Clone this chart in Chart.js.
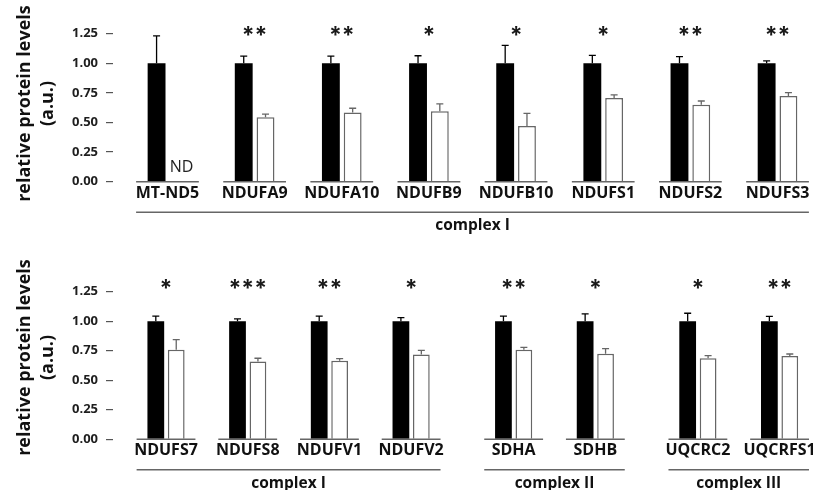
<!DOCTYPE html>
<html>
<head>
<meta charset="utf-8">
<script src="https://cdn.jsdelivr.net/npm/chart.js@4.4.1/dist/chart.umd.min.js"></script>
<style>
  html, body { margin: 0; padding: 0; background: #fff; }
  canvas { display: block; }
</style>
</head>
<body>
<canvas id="topPanel" width="813" height="240"></canvas>
<canvas id="bottomPanel" width="813" height="250"></canvas>
<script>
// top row
var topLabels  = ['MT-ND5', 'NDUFA9', 'NDUFA10', 'NDUFB9', 'NDUFB10', 'NDUFS1', 'NDUFS2', 'NDUFS3'];
var topGroups  = ['complex I', 'complex I', 'complex I', 'complex I', 'complex I', 'complex I', 'complex I', 'complex I'];
var topCtrl    = [1.00, 1.00, 1.00, 1.00, 1.00, 1.00, 1.00, 1.00];
var topCtrlErr = [0.23, 0.06, 0.06, 0.063, 0.15, 0.067, 0.055, 0.02];
var topKO      = [null, 0.543, 0.585, 0.594, 0.47, 0.706, 0.65, 0.723];
var topKOErr   = [null, 0.028, 0.035, 0.062, 0.107, 0.026, 0.031, 0.028];
var topStars   = ['', '**', '**', '*', '*', '*', '**', '**'];

// bottom row
var bottomLabels  = ['NDUFS7', 'NDUFS8', 'NDUFV1', 'NDUFV2', 'SDHA', 'SDHB', 'UQCRC2', 'UQCRFS1'];
var bottomGroups  = ['complex I', 'complex I', 'complex I', 'complex I', 'complex II', 'complex II', 'complex III', 'complex III'];
var bottomCtrl    = [1.00, 1.00, 1.00, 1.00, 1.00, 1.00, 1.00, 1.00];
var bottomCtrlErr = [0.042, 0.02, 0.042, 0.03, 0.042, 0.062, 0.067, 0.04];
var bottomKO      = [0.759, 0.658, 0.666, 0.717, 0.759, 0.725, 0.686, 0.705];
var bottomKOErr   = [0.084, 0.028, 0.017, 0.036, 0.02, 0.042, 0.022, 0.017];
var bottomStars   = ['*', '***', '**', '*', '**', '*', '*', '**'];

var yTicks = [0, 0.25, 0.5, 0.75, 1.0, 1.25];
var yTitle = ['relative protein levels', '(a.u.)'];

Chart.defaults.font.family = '"Open Sans", sans-serif';

var GROUP_GAP = 0.255;   // extra room between complexes
var HALF_BASE = 0.36;    // half length of the line under each category

function categoryPositions(groups) {
  var g = 0;
  return groups.map(function(name, i) {
    if (i > 0 && name !== groups[i - 1]) g++;
    return i + g * GROUP_GAP;
  });
}

var extrasPlugin = {
  id: 'extras',
  afterDatasetsDraw: function(chart, args, opts) {
    var ctx = chart.ctx, xs = chart.scales.x, ys = chart.scales.y;
    var y0 = ys.getPixelForValue(0);
    ctx.save();
    ctx.lineWidth = 1.5;
    ctx.strokeStyle = '#666';
    opts.pos.forEach(function(p) {
      ctx.beginPath();
      ctx.moveTo(xs.getPixelForValue(p - HALF_BASE), y0);
      ctx.lineTo(xs.getPixelForValue(p + HALF_BASE), y0);
      ctx.stroke();
    });
    // error bars, upper side only
    chart.data.datasets.forEach(function(ds, d) {
      var meta = chart.getDatasetMeta(d);
      ctx.strokeStyle = ds.errColor;
      ctx.lineWidth = 1.3;
      meta.data.forEach(function(bar, i) {
        var v = ds.data[i].y, e = ds.err[i];
        if (v == null || e == null) return;
        var yTop = ys.getPixelForValue(v + e);
        ctx.beginPath();
        ctx.moveTo(bar.x, ys.getPixelForValue(v));
        ctx.lineTo(bar.x, yTop);
        ctx.moveTo(bar.x - 3.5, yTop);
        ctx.lineTo(bar.x + 3.5, yTop);
        ctx.stroke();
      });
      // not detected
      if (d === 1) {
        ctx.fillStyle = '#222';
        ctx.font = '16px "Open Sans"';
        ctx.textAlign = 'center';
        ctx.textBaseline = 'alphabetic';
        ds.data.forEach(function(pt, i) {
          if (pt.y != null) return;
          var x = xs.getPixelForValue(opts.pos[i]) + 14;
          ctx.fillText('ND', x, y0 - 10);
        });
      }
    });
    // significance stars
    ctx.fillStyle = '#1a1a1a';
    ctx.font = 'bold 23px Inter, "Open Sans"';
    ctx.textAlign = 'center';
    ctx.textBaseline = 'middle';
    opts.stars.forEach(function(s, i) {
      if (!s) return;
      ctx.fillText(s, xs.getPixelForValue(opts.pos[i]), ys.getPixelForValue(opts.starLevel));
    });
    ctx.restore();
  },
  afterDraw: function(chart, args, opts) {
    var ctx = chart.ctx, xs = chart.scales.x, ys = chart.scales.y;
    var y0 = ys.getPixelForValue(0);
    ctx.save();
    ctx.strokeStyle = '#666';
    ctx.lineWidth = 1.5;
    ctx.fillStyle = '#111';
    ctx.font = 'bold 15.5px "Open Sans"';
    ctx.textAlign = 'center';
    ctx.textBaseline = 'middle';
    var start = 0;
    opts.groups.forEach(function(name, i) {
      if (i < opts.groups.length - 1 && opts.groups[i + 1] === name) return;
      var x1 = xs.getPixelForValue(opts.pos[start] - HALF_BASE);
      var x2 = xs.getPixelForValue(opts.pos[i] + HALF_BASE);
      ctx.beginPath();
      ctx.moveTo(x1, y0 + 30.5);
      ctx.lineTo(x2, y0 + 30.5);
      ctx.stroke();
      ctx.fillText(name, (x1 + x2) / 2, y0 + 44);
      start = i + 1;
    });
    ctx.restore();
  }
};

function makePanel(id, p) {
  var pos = categoryPositions(p.groups);
  var cfg = {
    type: 'bar',
    data: {
      datasets: [{
        label: 'control',
        data: p.ctrl.map(function(v, i) { return {x: pos[i], y: v}; }),
        err: p.ctrlErr,
        errColor: '#000',
        backgroundColor: '#000',
        borderWidth: 0,
        categoryPercentage: 0.5,
        barPercentage: 0.82
      }, {
        label: 'knockout',
        data: p.ko.map(function(v, i) { return {x: pos[i], y: v}; }),
        err: p.koErr,
        errColor: '#666',
        backgroundColor: '#fff',
        borderColor: '#666',
        borderWidth: 1.5,
        categoryPercentage: 0.5,
        barPercentage: 0.82
      }]
    },
    options: {
      responsive: false,
      animation: false,
      devicePixelRatio: 1,
      layout: {padding: {top: p.padTop, left: 0, right: 0, bottom: 0}},
      plugins: {
        legend: {display: false},
        tooltip: {enabled: false},
        extras: {pos: pos, stars: p.stars, groups: p.groups, starLevel: p.starLevel}
      },
      scales: {
        x: {
          type: 'linear',
          offset: false,
          min: p.xMin,
          max: p.xMax,
          grid: {display: false, drawTicks: false},
          border: {display: false},
          afterBuildTicks: function(scale) {
            scale.ticks = pos.map(function(v) { return {value: v}; });
          },
          afterFit: function(scale) {
            scale.height = p.xAxisHeight;
            scale.paddingLeft = 0;
            scale.paddingRight = 0;
          },
          ticks: {
            autoSkip: false,
            maxRotation: 0,
            padding: 2,
            color: '#111',
            font: {size: 16, weight: 'bold'},
            callback: function(v, i) { return p.labels[i]; }
          }
        },
        y: {
          min: 0,
          max: p.yMax,
          afterBuildTicks: function(scale) {
            scale.ticks = yTicks.map(function(v) { return {value: v}; });
          },
          afterFit: function(scale) {
            scale.width = 113;
            scale.paddingTop = 0;
            scale.paddingBottom = 0;
          },
          grid: {drawOnChartArea: false, drawTicks: true, tickLength: 7, color: '#555', lineWidth: 1.2},
          border: {display: false},
          ticks: {
            padding: 8,
            color: '#1e1e1e',
            font: {size: 13, weight: 'bold'},
            callback: function(v) { return v.toFixed(2); }
          },
          title: {
            display: true,
            text: yTitle,
            color: '#111',
            font: {size: 18, weight: 'bold', lineHeight: 1.3},
            padding: {top: 13, bottom: 0}
          }
        }
      }
    },
    plugins: [extrasPlugin]
  };
  return new Chart(document.getElementById(id), cfg);
}

window.topChart = makePanel('topPanel', {
  labels: topLabels, groups: topGroups,
  ctrl: topCtrl, ctrlErr: topCtrlErr, ko: topKO, koErr: topKOErr, stars: topStars,
  padTop: 25.3, yMax: 1.32, xMin: -0.625, xMax: 7.407, xAxisHeight: 58.3, starLevel: 1.225
});

window.bottomChart = makePanel('bottomPanel', {
  labels: bottomLabels, groups: bottomGroups,
  ctrl: bottomCtrl, ctrlErr: bottomCtrlErr, ko: bottomKO, koErr: bottomKOErr, stars: bottomStars,
  padTop: 35.7, yMax: 1.385, xMin: -0.649, xMax: 7.919, xAxisHeight: 50.7, starLevel: 1.27
});
</script>
</body>
</html>
